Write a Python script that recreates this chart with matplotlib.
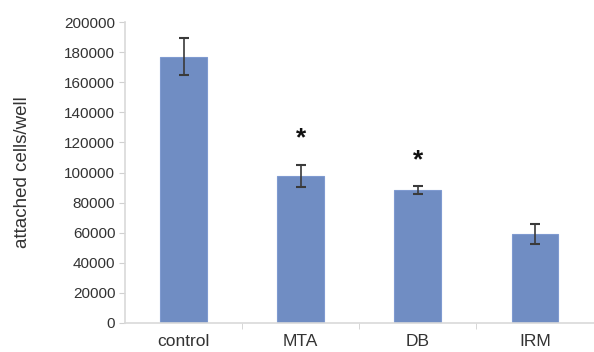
import numpy as np
import matplotlib.pyplot as plt

# ----- Data -----
groups = ["control", "MTA", "DB", "IRM"]
cells = [177000, 97700, 88400, 59100]
errors = [12500, 7000, 2700, 6700]
significant = [False, True, True, False]
star_y = [None, 123000, 108000, None]

plt.rcParams['font.family'] = ['Liberation Sans', 'DejaVu Sans']

# ----- Figure -----
fig = plt.figure(figsize=(5.94, 3.52), dpi=100)
ax = fig.add_axes([0.2104, 0.0824, 0.789, 0.855])

x = np.arange(len(groups))
ax.bar(x, cells, width=0.4, color='#708dc3', edgecolor='#7f9ad0', linewidth=0.8, zorder=2)
ax.errorbar(x, cells, yerr=errors, fmt='none', ecolor='#3a3a3a', elinewidth=1.2,
            capsize=3.5, capthick=1.5, zorder=3)

for xi, sig, sy in zip(x, significant, star_y):
    if sig:
        ax.text(xi, sy, "*", ha='center', va='center', fontsize=19,
                fontweight='bold', color='#111111')

ax.set_xlim(-0.5, 3.5)
ax.set_ylim(0, 200000)
ax.set_yticks(np.arange(0, 200001, 20000))
ax.set_xticks(x)
ax.set_xticklabels(groups, fontsize=12.5, color='#333333')
ax.set_xticks(x[:-1] + 0.5, minor=True)

ax.tick_params(axis='x', which='major', length=0, pad=8)
ax.tick_params(axis='x', which='minor', length=4, color='#d0d0d0')
ax.tick_params(axis='y', length=4, color='#d0d0d0', labelsize=11, labelcolor='#333333', pad=3)

for side in ['top', 'right']:
    ax.spines[side].set_visible(False)
for side in ['left', 'bottom']:
    ax.spines[side].set_color('#d9d9d9')
    ax.spines[side].set_linewidth(1.2)

ax.set_ylabel("attached cells/well", fontsize=13.5, color='#333333', labelpad=24)

fig.savefig("out.png", dpi=100)
